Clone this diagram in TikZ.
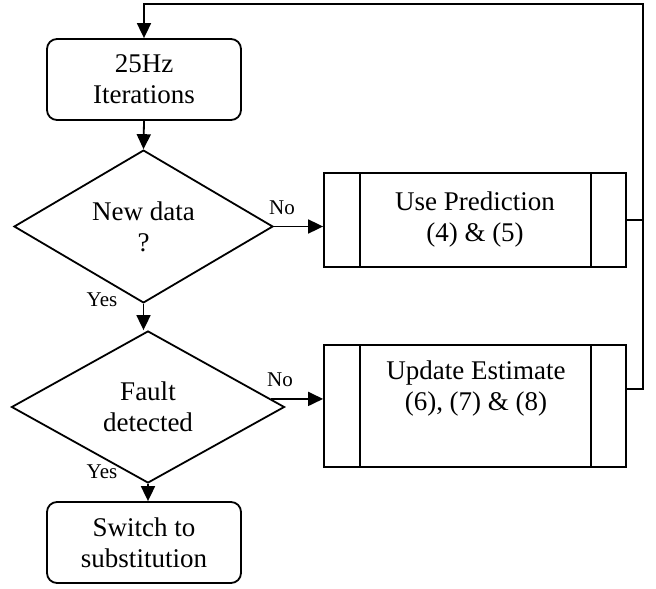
\documentclass[tikz,border=0pt]{standalone}
\usepackage{fontspec}
\setmainfont{Liberation Serif}
\usetikzlibrary{shapes.geometric,arrows.meta,calc}
\begin{document}
\begin{tikzpicture}[x=1pt,y=-1pt,
  line width=1.8pt,
  every node/.style={font=\fontsize{27}{31}\selectfont, align=center},
  rbox/.style={draw, rounded corners=10pt, minimum width=194pt, minimum height=81pt, inner sep=0pt},
  dec/.style={draw, diamond, inner sep=0pt},
  pbox/.style={draw, rectangle, minimum width=302pt, inner sep=0pt},
  lbl/.style={font=\fontsize{21}{24}\selectfont, inner sep=0pt},
  arr/.style={-{Triangle[length=15pt,width=14pt]}},
]
\useasboundingbox (0,0) rectangle (656,589);

% nodes
\node[rbox] (b1) at (144,79.5) {25Hz\\Iterations};
\node[dec, minimum width=259pt, minimum height=137pt] (d1) at (143.5,226.5) {New data\\?};
\node[dec, minimum width=273pt, minimum height=152pt] (d2) at (148,407) {Fault\\detected};
\node[rbox] (b3) at (144,542.5) {Switch to\\substitution};
\node[pbox, minimum height=94pt] (p1) at (475,220) {Use Prediction\\(4) \& (5)};
\node[pbox, minimum height=122pt] (p2) at (475,406) {};
\node (p2t) at (476,389) {Update Estimate\\(6), (7) \& (8)};

% process side bars
\draw ([xshift=37pt]p1.north west) -- ([xshift=37pt]p1.south west);
\draw ([xshift=-36pt]p1.north east) -- ([xshift=-36pt]p1.south east);
\draw ([xshift=37pt]p2.north west) -- ([xshift=37pt]p2.south west);
\draw ([xshift=-36pt]p2.north east) -- ([xshift=-36pt]p2.south east);

% labels
\node[lbl] (no1) at (282,208) {No};
\node[lbl] (yes1) at (102,300) {Yes};
\node[lbl] (no2) at (280,380) {No};
\node[lbl] (yes2) at (102,472) {Yes};

% coordinates for loop
\coordinate (r2) at (643,389);
\coordinate (tr) at (643,4);
\coordinate (d2o) at ($(d2.east)!0.105!(d2.north)$);

% connectors
\draw[arr] (b1.south) -- (d1.north);
\draw[arr] (d1.east) -- (d1.east -| p1.west);
\draw[arr] (d1.south) -- (d1.south |- d2.north);
\draw[arr] (d2o) -- (d2o -| p2.west);
\draw[arr] (d2.south) -- (d2.south |- b3.north);
\draw (p1.east) -- (p1.east -| r2);
\draw[arr] (p2.east |- r2) -- (r2) -- (tr) -- (tr -| b1.north) -- (b1.north);
\end{tikzpicture}
\end{document}
